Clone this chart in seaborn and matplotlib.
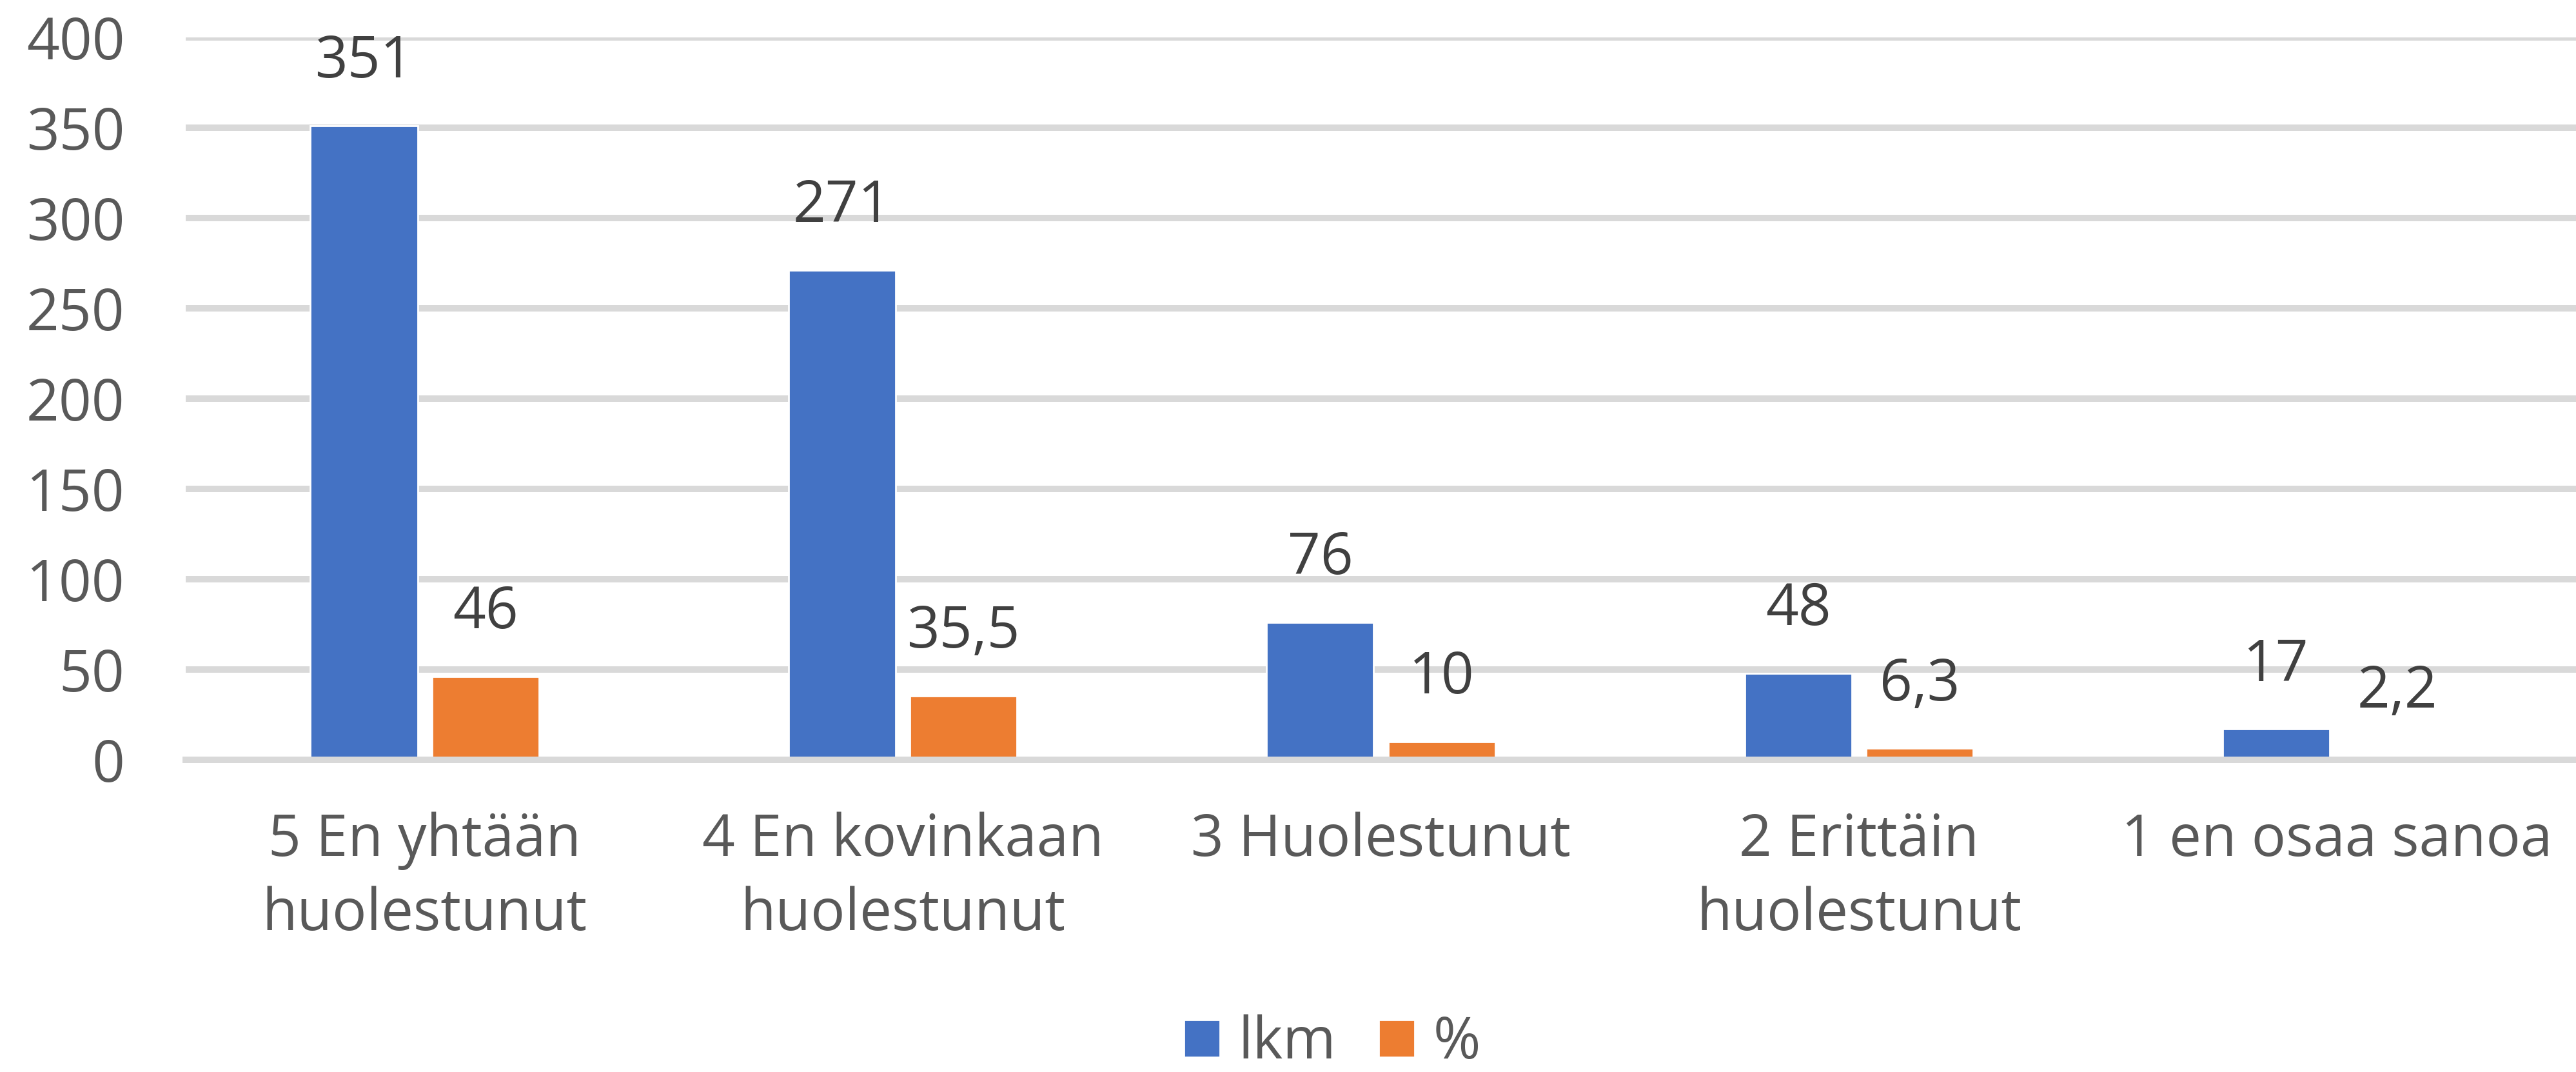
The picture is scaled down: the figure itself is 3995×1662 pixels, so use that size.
import matplotlib
matplotlib.use("Agg")
import matplotlib.pyplot as plt
import seaborn as sns
import pandas as pd

# Survey answers: count (lkm) and share (%) per answer option
categories = [
    "5 En yhtään\nhuolestunut",
    "4 En kovinkaan\nhuolestunut",
    "3 Huolestunut",
    "2 Erittäin\nhuolestunut",
    "1 en osaa sanoa",
]
lkm = [351, 271, 76, 48, 17]
pct = [46, 35.5, 10, 6.3, 2.2]
series_names = ["lkm", "%"]
y_ticks = [0, 50, 100, 150, 200, 250, 300, 350, 400]

BLUE = "#4472C4"
ORANGE = "#ED7D31"
GRID = "#D9D9D9"
TICK_TXT = "#595959"
LABEL_TXT = "#404040"

df = pd.DataFrame({
    "kategoria": categories * 2,
    "arvo": lkm + pct,
    "sarja": [series_names[0]] * len(categories) + [series_names[1]] * len(categories),
})

sns.set_theme(style="white")
plt.rcParams["font.family"] = ["Open Sans", "DejaVu Sans"]
FS = 32

W, H, DPI = 3995, 1662, 200
fig = plt.figure(figsize=(W / DPI, H / DPI), dpi=DPI)
ax = fig.add_axes([288 / W, 1 - 1178 / H, 1 - 288 / W, (1178 - 58) / H])

sns.barplot(
    data=df, x="kategoria", y="arvo", hue="sarja",
    order=categories, hue_order=series_names,
    palette=[BLUE, ORANGE], width=0.508, gap=0.118,
    saturation=1, ax=ax, legend=True, zorder=2,
)

ax.set_ylim(0, 400)
ax.set_xlim(-0.5, len(categories) - 0.5)
ax.set_yticks(y_ticks)
ax.set_yticklabels([str(t) for t in y_ticks])
ax.yaxis.grid(True, color=GRID, linewidth=3.6, zorder=0)
ax.set_axisbelow(True)
for side in ["left", "right", "top"]:
    ax.spines[side].set_visible(False)
ax.spines["bottom"].set_color(GRID)
ax.spines["bottom"].set_linewidth(3.6)
ax.spines["bottom"].set_zorder(3)

ax.tick_params(axis="y", length=0, pad=34, labelsize=FS, labelcolor=TICK_TXT)
ax.tick_params(axis="x", length=0, pad=29, labelsize=FS, labelcolor=TICK_TXT)
for lbl in ax.get_xticklabels():
    lbl.set_linespacing(1.35)
ax.set_xlabel("")
ax.set_ylabel("")


def fmt(v):
    if float(v).is_integer():
        return str(int(v))
    return f"{v}".replace(".", ",")


for container in ax.containers:
    labels = []
    for bar in container:
        labels.append(fmt(round(bar.get_height(), 1)))
    ax.bar_label(container, labels=labels, padding=19, fontsize=FS,
                 color=LABEL_TXT)

handles, labels = ax.get_legend_handles_labels()
ax.get_legend().remove()
fig.legend(
    handles, labels, loc="center", bbox_to_anchor=(2066 / W, 1 - 1618 / H),
    ncol=2, frameon=False, fontsize=FS, labelcolor=TICK_TXT,
    handlelength=0.63, handleheight=0.63, handletextpad=0.32,
    columnspacing=0.75, borderpad=0,
)

fig.savefig("out.png", dpi=DPI)
